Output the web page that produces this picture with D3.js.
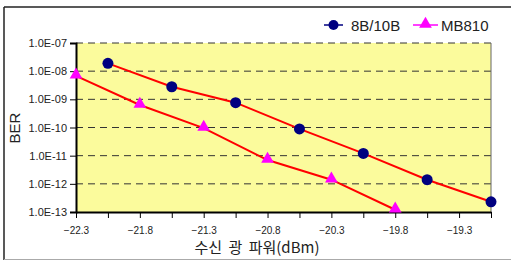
<!DOCTYPE html>
<html>
<head>
<meta charset="utf-8">
<script src="https://cdn.jsdelivr.net/npm/d3@7"></script>
<style>
body{margin:0;background:#fff;}
text{font-family:"Liberation Sans",Arial,sans-serif;}
</style>
</head>
<body>
<svg id="chart"></svg>
<script>
// receive power (dBm)
var power8b10b = [-22.05,-21.55,-21.05,-20.55,-20.05,-19.55,-19.05];
var ber8b10b   = [1.9e-8,2.8e-9,7.6e-10,8.9e-11,1.2e-11,1.4e-12,2.3e-13];
var powerMB810 = [-22.3,-21.8,-21.3,-20.8,-20.3,-19.8];
var berMB810   = [6.8e-9,6.3e-10,9.5e-11,7.0e-12,1.4e-12,1.2e-13];
var xTickLabels = [-22.3,-21.8,-21.3,-20.8,-20.3,-19.8,-19.3];
var yTickLabels = ["1.0E-07","1.0E-08","1.0E-09","1.0E-10","1.0E-11","1.0E-12","1.0E-13"];
var seriesNames = ["8B/10B","MB810"];

var screen = {width:511,height:261}
var margins = {left:76,right:20,top:43,bottom:49}

var svg = d3.select("#chart")
    .attr("width",screen.width)
    .attr("height",screen.height)

// outer frame
svg.append("line").attr("x1",4).attr("x2",4).attr("y1",7).attr("y2",260).attr("stroke","#222").attr("stroke-width",1.5)
svg.append("line").attr("x1",4).attr("x2",511).attr("y1",7).attr("y2",7).attr("stroke","#222").attr("stroke-width",1.5)
svg.append("line").attr("x1",4).attr("x2",511).attr("y1",259.5).attr("y2",259.5).attr("stroke","#aaa").attr("stroke-width",1)

var xScale = d3.scaleLinear()
    .domain([-22.3,-19.05])
    .range([76,491])

var yScale = d3.scaleLog()
    .domain([1e-13,1e-7])
    .range([212,43])

// plot background
svg.append("rect")
    .attr("x",xScale(-22.3)).attr("y",yScale(1e-7))
    .attr("width",xScale(-19.05)-xScale(-22.3))
    .attr("height",yScale(1e-13)-yScale(1e-7))
    .attr("fill","#fbfb9c")

var yVals = yTickLabels.map(function(t){return +t;})

// grid lines
svg.append("g").selectAll("line")
    .data(yVals.filter(function(v){return v>1e-13;}))
    .enter()
    .append("line")
    .attr("x1",xScale(-22.3)).attr("x2",xScale(-19.05))
    .attr("y1",function(d){return yScale(d);})
    .attr("y2",function(d){return yScale(d);})
    .attr("stroke","#333")
    .attr("stroke-width",1)
    .attr("stroke-dasharray","7,5")

// right border
svg.append("line")
    .attr("x1",xScale(-19.05)).attr("x2",xScale(-19.05))
    .attr("y1",yScale(1e-7)).attr("y2",yScale(1e-13))
    .attr("stroke","#666").attr("stroke-width",1)

// y axis
var yAxis = d3.axisLeft(yScale)
    .tickValues(yVals)
    .tickFormat(function(d,i){return yTickLabels[i];})
    .tickSize(6)
    .tickPadding(3)
var gy = svg.append("g").attr("transform","translate(76,0)").call(yAxis)
gy.select(".domain").attr("stroke","#000").attr("stroke-width",2)
gy.selectAll("text").attr("font-size","11px").attr("fill","#222")
    .attr("font-family","'Liberation Sans',Arial,sans-serif")

// x axis
var xMinor = d3.range(0,14).map(function(i){return -22.3+i*0.25;})
var xAxis = d3.axisBottom(xScale)
    .tickValues(xMinor)
    .tickFormat(function(d){
        var r = Math.round(d*10)/10;
        return xTickLabels.indexOf(r)>=0 && Math.abs(d-r)<0.01 ? "\u2212"+Math.abs(r).toFixed(1) : "";
    })
    .tickSize(6)
    .tickSizeOuter(0)
    .tickPadding(9)
var gx = svg.append("g").attr("transform","translate(0,212)").call(xAxis)
gx.select(".domain").attr("stroke","#000").attr("stroke-width",2)
gx.selectAll("text").attr("font-size","10px").attr("fill","#222")
    .attr("font-family","'Liberation Sans',Arial,sans-serif")

// axis titles
svg.append("text")
    .attr("transform","translate(20,128) rotate(-90)")
    .attr("text-anchor","middle")
    .attr("font-size","15px")
    .attr("fill","#222")
    .text("BER")
svg.append("text")
    .attr("x",257).attr("y",253)
    .attr("text-anchor","middle")
    .attr("font-size","15px")
    .attr("fill","#222")
    .style("font-family","'Noto Sans CJK KR','Liberation Sans',sans-serif")
    .style("word-spacing","3px")
    .text("수신 광 파워(dBm)")

var lineGen = d3.line()
    .x(function(d){return xScale(d[0]);})
    .y(function(d){return yScale(d[1]);})

var data8 = power8b10b.map(function(p,i){return [p,ber8b10b[i]];})
var dataM = powerMB810.map(function(p,i){return [p,berMB810[i]];})

svg.append("path").datum(data8).attr("d",lineGen)
    .attr("fill","none").attr("stroke","#ff0000").attr("stroke-width",2)
svg.append("path").datum(dataM).attr("d",lineGen)
    .attr("fill","none").attr("stroke","#ff0000").attr("stroke-width",2)

var tri = d3.symbol().type(d3.symbolTriangle).size(70)

svg.append("g").selectAll("path")
    .data(dataM)
    .enter()
    .append("path")
    .attr("d",tri)
    .attr("transform",function(d){return "translate("+xScale(d[0])+","+(yScale(d[1])-1)+")";})
    .attr("fill","#ff00ff")

svg.append("g").selectAll("circle")
    .data(data8)
    .enter()
    .append("circle")
    .attr("cx",function(d){return xScale(d[0]);})
    .attr("cy",function(d){return yScale(d[1]);})
    .attr("r",5.5)
    .attr("fill","#000080")

// legend
var legend = svg.append("g").attr("transform","translate(0,25)")
legend.append("line").attr("x1",324).attr("x2",343).attr("y1",0).attr("y2",0).attr("stroke","#000080").attr("stroke-width",1.5)
legend.append("circle").attr("cx",333.5).attr("cy",0).attr("r",5).attr("fill","#000080")
legend.append("text").attr("x",351).attr("y",5.5).attr("font-size","15px").attr("fill","#222").text(seriesNames[0])
legend.append("line").attr("x1",413).attr("x2",438).attr("y1",0).attr("y2",0).attr("stroke","#ff00ff").attr("stroke-width",1.5)
legend.append("path").attr("d",tri).attr("transform","translate(425.5,-1)").attr("fill","#ff00ff")
legend.append("text").attr("x",441).attr("y",5.5).attr("font-size","15px").attr("fill","#222").text(seriesNames[1])
</script>
</body>
</html>
